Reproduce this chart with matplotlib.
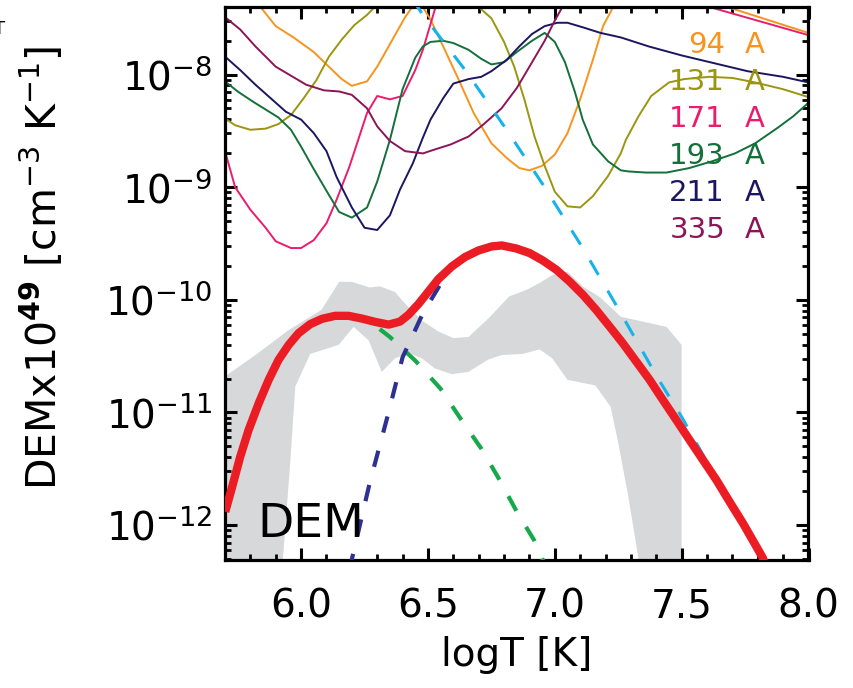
import numpy as np
import matplotlib
matplotlib.use('Agg')
import matplotlib.pyplot as plt
from matplotlib.ticker import LogLocator, MultipleLocator, NullFormatter

# response curves (log10 of EM loci) per AIA channel
t94 = [5.70, 5.84, 5.90, 5.97, 6.05, 6.10, 6.16, 6.20, 6.26, 6.30, 6.36, 6.41, 6.46, 6.51, 6.56,
       6.62, 6.68, 6.75, 6.81, 6.86, 6.90, 6.95, 7.00, 7.05, 7.10, 7.15, 7.19, 7.23, 7.45, 7.68, 8.00]
e94 = [-7.00, -7.40, -7.57, -7.67, -7.80, -7.91, -8.04, -8.10, -8.06, -7.93, -7.69, -7.49, -7.33, -7.51, -7.75,
       -8.04, -8.34, -8.61, -8.74, -8.83, -8.85, -8.81, -8.71, -8.52, -8.22, -7.87, -7.57, -7.40, -7.05, -7.40, -7.63]

t131 = [5.70, 5.74, 5.80, 5.86, 5.91, 5.96, 6.01, 6.06, 6.11, 6.16, 6.21, 6.26, 6.29, 6.50, 6.70, 6.75, 6.80,
        6.84, 6.88, 6.92, 6.96, 7.00, 7.05, 7.10, 7.15, 7.21, 7.26, 7.28, 7.33, 7.38, 7.45, 7.51, 7.61, 7.70,
        7.79, 7.90, 8.00]
e131 = [-8.39, -8.45, -8.49, -8.48, -8.44, -8.36, -8.21, -8.05, -7.84, -7.69, -7.56, -7.47, -7.40, -7.10, -7.40,
        -7.50, -7.71, -7.93, -8.22, -8.55, -8.81, -9.04, -9.17, -9.18, -9.08, -8.90, -8.70, -8.58, -8.37, -8.19,
        -8.07, -8.04, -8.02, -8.03, -8.07, -8.13, -8.20]

t171 = [5.70, 5.74, 5.80, 5.86, 5.90, 5.96, 6.00, 6.05, 6.10, 6.14, 6.19, 6.26, 6.30, 6.35, 6.40, 6.45, 6.48,
        6.53, 6.60, 6.80, 7.10, 7.40, 7.61, 8.00]
e171 = [-8.68, -9.00, -9.20, -9.36, -9.48, -9.54, -9.54, -9.47, -9.32, -9.11, -8.82, -8.34, -8.19, -8.22, -8.19,
        -7.96, -7.78, -7.40, -7.10, -6.80, -6.80, -7.10, -7.40, -7.65]

t193 = [5.70, 5.75, 5.81, 5.86, 5.91, 5.96, 6.00, 6.05, 6.11, 6.15, 6.20, 6.26, 6.30, 6.35, 6.40, 6.45, 6.48,
        6.51, 6.56, 6.60, 6.66, 6.71, 6.75, 6.80, 6.85, 6.91, 6.96, 7.00, 7.04, 7.08, 7.11, 7.15, 7.21, 7.26,
        7.29, 7.36, 7.44, 7.53, 7.62, 7.71, 7.79, 7.88, 7.94, 8.00]
e193 = [-8.06, -8.15, -8.24, -8.31, -8.38, -8.49, -8.64, -8.84, -9.07, -9.22, -9.27, -9.18, -8.95, -8.58, -8.13,
        -7.85, -7.75, -7.71, -7.70, -7.72, -7.78, -7.86, -7.91, -7.89, -7.80, -7.70, -7.63, -7.71, -7.89, -8.16,
        -8.40, -8.62, -8.77, -8.85, -8.86, -8.87, -8.87, -8.83, -8.77, -8.70, -8.61, -8.47, -8.37, -8.25]

t211 = [5.70, 5.76, 5.82, 5.88, 5.94, 6.00, 6.05, 6.10, 6.14, 6.20, 6.25, 6.30, 6.35, 6.39, 6.44, 6.48, 6.51,
        6.56, 6.60, 6.66, 6.71, 6.75, 6.81, 6.86, 6.91, 6.96, 7.01, 7.05, 7.11, 7.18, 7.26, 7.37, 7.50, 7.63,
        7.76, 7.90, 8.00]
e211 = [-7.84, -7.96, -8.09, -8.21, -8.33, -8.40, -8.52, -8.68, -8.91, -9.18, -9.36, -9.38, -9.25, -9.02, -8.79,
        -8.56, -8.40, -8.21, -8.08, -8.04, -8.02, -7.97, -7.87, -7.75, -7.64, -7.57, -7.54, -7.54, -7.58, -7.63,
        -7.67, -7.75, -7.83, -7.90, -7.97, -8.02, -8.07]

t335 = [5.70, 5.76, 5.82, 5.90, 5.96, 6.02, 6.09, 6.15, 6.20, 6.26, 6.30, 6.35, 6.41, 6.48, 6.52, 6.59, 6.66,
        6.72, 6.79, 6.85, 6.90, 6.96, 7.00, 7.03, 7.30, 8.00]
e335 = [-7.49, -7.60, -7.75, -7.93, -8.01, -8.09, -8.14, -8.15, -8.18, -8.30, -8.46, -8.59, -8.68, -8.70, -8.67,
        -8.62, -8.55, -8.44, -8.30, -8.12, -7.93, -7.70, -7.52, -7.40, -6.80, -6.40]

# DEM solution and its components
t_dem = [5.701, 5.728, 5.760, 5.793, 5.833, 5.872, 5.911, 5.951, 5.990, 6.036, 6.082, 6.134, 6.187, 6.239,
         6.292, 6.345, 6.390, 6.423, 6.463, 6.502, 6.541, 6.594, 6.646, 6.699, 6.751, 6.791, 6.848, 6.901,
         6.953, 7.006, 7.058, 7.111, 7.163, 7.216, 7.268, 7.321, 7.374, 7.426, 7.479, 7.531, 7.584, 7.637,
         7.689, 7.742, 7.795, 7.821, 7.840]
e_dem = [-11.882, -11.662, -11.393, -11.156, -10.918, -10.711, -10.533, -10.400, -10.296, -10.216, -10.169,
         -10.142, -10.142, -10.166, -10.196, -10.220, -10.193, -10.133, -10.036, -9.926, -9.816, -9.704, -9.620,
         -9.562, -9.526, -9.517, -9.544, -9.585, -9.651, -9.733, -9.837, -9.956, -10.089, -10.237, -10.385,
         -10.548, -10.711, -10.889, -11.067, -11.244, -11.422, -11.600, -11.793, -11.985, -12.193, -12.296, -12.45]

t_cool = [6.31, 6.35, 6.45, 6.55, 6.63, 6.71, 6.78, 6.85, 6.92, 6.97]
e_cool = [-10.26, -10.33, -10.54, -10.79, -11.06, -11.32, -11.59, -11.88, -12.14, -12.40]

t_warm = [6.19, 6.27, 6.34, 6.40, 6.48, 6.56, 6.60]
e_warm = [-12.40, -11.63, -11.04, -10.51, -10.12, -9.82, -9.70]

t_hot = [6.40, 6.48, 6.65, 6.81, 6.96, 7.11, 7.24, 7.41, 7.50, 7.66, 7.81, 7.90]
e_hot = [-7.20, -7.47, -7.97, -8.49, -9.00, -9.54, -10.04, -10.71, -11.04, -11.68, -12.29, -12.70]

# uncertainty band
t_up = [5.70, 5.82, 5.95, 6.08, 6.15, 6.20, 6.27, 6.31, 6.37, 6.42, 6.48, 6.54, 6.60, 6.66, 6.745, 6.82,
        6.89, 6.94, 6.99, 7.05, 7.11, 7.18, 7.26, 7.44, 7.50]
e_up = [-10.68, -10.49, -10.27, -10.09, -9.84, -9.84, -9.89, -9.88, -9.93, -10.06, -10.19, -10.28, -10.34,
        -10.33, -10.15, -9.97, -9.91, -9.85, -9.78, -9.75, -9.88, -9.98, -10.15, -10.24, -10.40]
t_lo = [5.70, 5.925, 5.957, 5.977, 6.036, 6.148, 6.207, 6.266, 6.318, 6.370, 6.423, 6.476, 6.528, 6.594,
        6.659, 6.738, 6.791, 6.874, 6.94, 6.99, 7.05, 7.16, 7.22, 7.25, 7.29, 7.33, 7.34, 7.50]
e_lo = [-13.0, -12.4, -11.45, -10.77, -10.48, -10.40, -10.24, -10.36, -10.64, -10.52, -10.47, -10.52, -10.61,
        -10.66, -10.64, -10.53, -10.49, -10.48, -10.44, -10.52, -10.71, -10.76, -10.95, -11.27, -11.75, -12.30,
        -13.0, -13.0]

channels = ['94', '131', '171', '193', '211', '335']
ch_colors = ['#f7941d', '#9b9510', '#ec1c6c', '#13703a', '#1b1660', '#8c1458']
curves = [(t94, e94), (t131, e131), (t171, e171), (t193, e193), (t211, e211), (t335, e335)]

plt.rcParams['font.family'] = 'DejaVu Sans'
fig = plt.figure(figsize=(8.54, 6.88), dpi=100)
ax = fig.add_axes([225 / 854, 1 - 560 / 688, 583.5 / 854, 553 / 688])

band_x = list(t_up) + list(t_lo[::-1])
band_y = list(e_up) + list(e_lo[::-1])
ax.fill(band_x, 10 ** np.array(band_y), color='#d7d8da', lw=0, zorder=1)

for (t, e), c in zip(curves, ch_colors):
    ax.plot(t, 10 ** np.array(e), color=c, lw=1.4, zorder=2)

ax.plot(t_hot, 10 ** np.array(e_hot), color='#18b2ea', lw=2.2, dashes=(5.5, 6), zorder=3)
ax.plot(t_cool, 10 ** np.array(e_cool), color='#16a84a', lw=3, dashes=(4, 4.5), zorder=3)
ax.plot(t_warm, 10 ** np.array(e_warm), color='#2e3192', lw=3, dashes=(4, 4.5), zorder=3)
ax.plot(t_dem, 10 ** np.array(e_dem), color='#ec1c24', lw=6, zorder=4,
        solid_capstyle='butt', solid_joinstyle='round')

ax.set_yscale('log')
ax.set_xlim(5.7, 8.0)
ax.set_ylim(10 ** -12.31, 10 ** -7.40)
ax.set_xticks([6.0, 6.5, 7.0, 7.5, 8.0])
ax.set_xticklabels(['6.0', '6.5', '7.0', '7.5', '8.0'])
ax.xaxis.set_minor_locator(MultipleLocator(0.1))
ax.set_yticks([1e-12, 1e-11, 1e-10, 1e-9, 1e-8])
ax.yaxis.set_minor_locator(LogLocator(base=10, subs=np.arange(2, 10), numticks=20))
ax.yaxis.set_minor_formatter(NullFormatter())

ax.tick_params(which='both', direction='in', top=True, right=True, labelsize=28)
ax.tick_params(which='major', length=8.5, width=2.2)
ax.tick_params(which='minor', length=4.5, width=2)
ax.tick_params(axis='x', which='major', pad=20)
ax.tick_params(axis='y', which='major', pad=9)
for s in ax.spines.values():
    s.set_linewidth(2.3)

for i, (lab, c) in enumerate(zip(channels, ch_colors)):
    yb = 0.9168 - i * 0.0669
    ax.text(0.857, yb, lab, color=c, fontsize=21, ha='right', va='baseline', transform=ax.transAxes, zorder=6)
    ax.text(0.891, yb, 'A', color=c, fontsize=21, ha='left', va='baseline', transform=ax.transAxes, zorder=6)

ax.text(0.055, 0.0416, 'DEM', fontsize=34, ha='left', va='baseline', transform=ax.transAxes, zorder=6)

fig.text(516.5 / 854, 1 - 655 / 688, 'logT [K]', fontsize=28, ha='center', va='center')
fig.text(42 / 854, 1 - 268 / 688, r'DEMx10$^{\mathbf{49}}$ [cm$^{-3}$ K$^{-1}$]', fontsize=29.5,
         rotation=90, ha='center', va='center')
fig.text(0.0, 1 - 20 / 688, 'T', fontsize=13, ha='center', va='top')

fig.savefig('out.png', dpi=100)
